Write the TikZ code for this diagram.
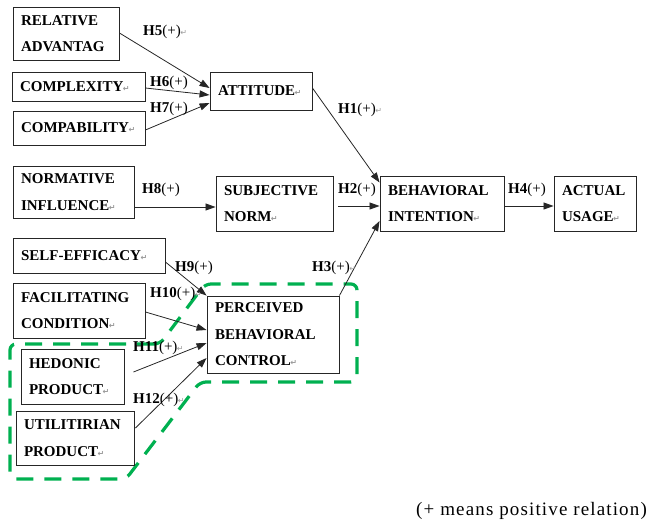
\documentclass[tikz,border=0pt]{standalone}
\usepackage{fontspec}
\setmainfont{Liberation Serif}
\newfontfamily\markfont{DejaVu Sans}
\newfontfamily\notefont[LetterSpace=6]{Liberation Serif}
\usetikzlibrary{arrows.meta,calc}
\definecolor{grp}{RGB}{0,176,80}
% paragraph mark after a line
\newcommand\pmark{{\markfont\fontsize{8}{8}\selectfont\color{black!40}\kern-0.5pt↵}}

\begin{document}
\begin{tikzpicture}[x=1pt,y=-1pt,
  cbox/.style={draw=black!85, line width=0.9pt, inner xsep=8pt, inner ysep=0pt, align=left,
     font=\bfseries\fontsize{15}{26.5}\selectfont},
  cell/.code 2 args={\pgfmathsetmacro\boxtw{#1-16}%
     \tikzset{cbox, minimum width=#1pt, minimum height=#2pt, text width=\boxtw pt}},
  rel/.style={draw=black!85, line width=0.8pt, -{Triangle[length=10pt,width=7pt]}},
  hyp/.style={inner sep=0pt, anchor=west, font=\fontsize{15}{15}\selectfont},
  grpline/.style={draw=grp, line width=3.2pt, dash pattern=on 17pt off 11pt, rounded corners=6pt}
]
\useasboundingbox (0,0) rectangle (647,522);

% group outline around the product-type constructs
\draw[grpline] (160,344) -- (10,344) -- (10,479) -- (126,479) -- (200,382)
  -- (357,382) -- (357,284) -- (205,284) -- cycle;

% constructs
\node[cell={106}{53}]  (ra)  at (66,33.5)    {RELATIVE\\ADVANTAG};
\node[cell={133}{29}]  (cx)  at (78.5,86.5)  {COMPLEXITY\pmark};
\node[cell={132}{34}]  (cb)  at (79,128)     {COMPABILITY\pmark};
\node[cell={102}{38}]  (at)  at (261,91)     {ATTITUDE\pmark};
\node[cell={124}{55}]  (bi)  at (442,203.5)  {BEHAVIORAL\\INTENTION\pmark};
\node[cell={82}{55}]   (au)  at (595,203.5)  {ACTUAL\\USAGE\pmark};
\node[cell={121}{52}]  (ni)  at (73.5,192)   {NORMATIVE\\INFLUENCE\pmark};
\node[cell={117}{55}]  (sn)  at (274.5,203.5){SUBJECTIVE\\NORM\pmark};
\node[cell={152}{35}]  (se)  at (89,255.5)   {SELF-EFFICACY\pmark};
\node[cell={132}{55}]  (fc)  at (79,310.5)   {FACILITATING\\CONDITION\pmark};
\node[cell={132}{77}]  (pbc) at (273,334.5)  {PERCEIVED\\BEHAVIORAL\\CONTROL\pmark};
\node[cell={103}{55}]  (hp)  at (72.5,376.5) {HEDONIC\\PRODUCT\pmark};
\node[cell={118}{54}]  (up)  at (75,438)     {UTILITIRIAN\\PRODUCT\pmark};

% hypothesised relations
\draw[rel] ($(ra.east)+(0,-0.5)$) -- ($(at.west)+(0,-3)$);
\draw[rel] ($(cx.east)+(0,1.5)$)  -- ($(at.west)+(0,4)$);
\draw[rel] ($(cb.east)+(0,2)$)    -- ($(at.west)+(0,12)$);
\draw[rel] ($(at.east)+(0,-3)$)   -- ($(bi.west)+(0,-21)$);
\draw[rel] ($(sn.east)+(5,2.5)$)  -- ($(bi.west)+(0,2.5)$);
\draw[rel] (pbc.north east)       -- ($(bi.west)+(0,17.5)$);
\draw[rel] ($(bi.east)+(0,2.5)$)  -- ($(au.west)+(0,2.5)$);
\draw[rel] ($(ni.east)+(0,15)$)   -- ($(sn.west)+(0,3.5)$);
\draw[rel] ($(se.east)+(0,6.5)$)  -- (pbc.north west);
\draw[rel] ($(fc.east)+(0,1.5)$)  -- ($(pbc.west)+(0,-4.5)$);
\draw[rel] ($(hp.east)+(9,-4.5)$) -- ($(pbc.west)+(0,8.5)$);
\draw[rel] ($(up.east)+(1,-10)$)  -- ($(pbc.west)+(0,23.5)$);

% hypothesis labels
\node[hyp] (h5)  at (143,32)  {\textbf{H5}(+)\pmark};
\node[hyp] (h6)  at (150,83)  {\textbf{H6}(+)};
\node[hyp] (h7)  at (150,109) {\textbf{H7}(+)};
\node[hyp] (h1)  at (338,110) {\textbf{H1}(+)\pmark};
\node[hyp] (h2)  at (338,190) {\textbf{H2}(+)};
\node[hyp] (h4)  at (508,190) {\textbf{H4}(+)};
\node[hyp] (h8)  at (142,190) {\textbf{H8}(+)};
\node[hyp] (h9)  at (175,268) {\textbf{H9}(+)};
\node[hyp] (h3)  at (312,268) {\textbf{H3}(+)\pmark};
\node[hyp] (h10) at (150,294) {\textbf{H10}(+)\pmark};
\node[hyp] (h11) at (133,348) {\textbf{H11}(+)\pmark};
\node[hyp] (h12) at (133,400) {\textbf{H12}(+)\pmark};

% note
\node[anchor=east, inner sep=0pt, font=\notefont\fontsize{19}{19}\selectfont] (note) at (647,511)
  {(+ means positive relation)};
\end{tikzpicture}
\end{document}
